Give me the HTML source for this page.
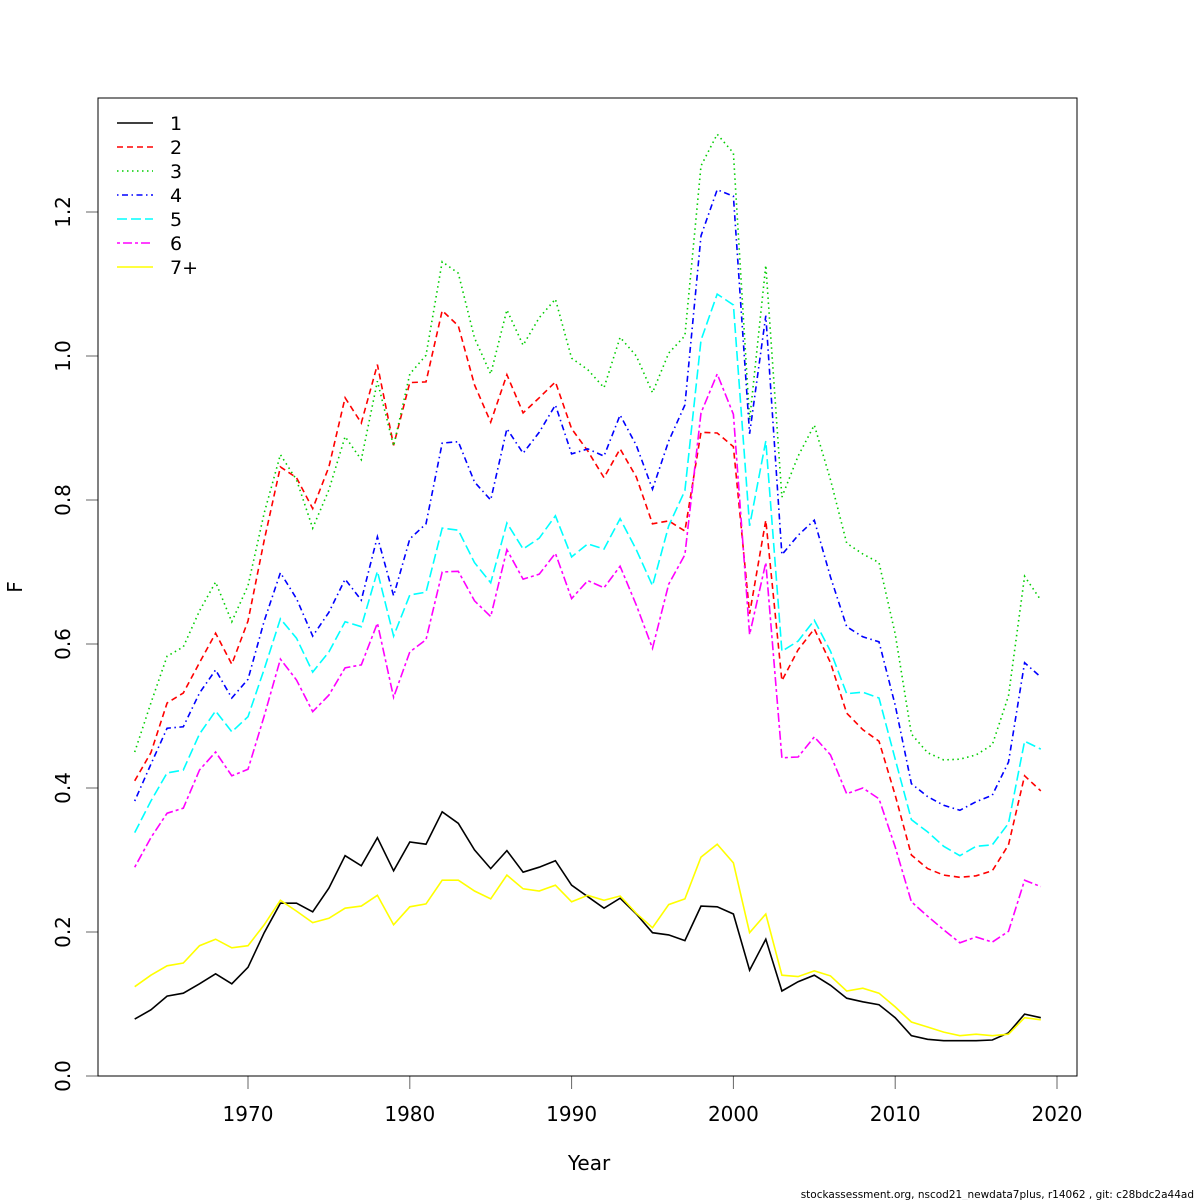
<!DOCTYPE html>
<html><head><meta charset="utf-8"><style>
body{margin:0;background:#fff;font-family:"DejaVu Sans","Liberation Sans",sans-serif}
</style></head><body>
<svg id="chart" width="1200" height="1200" xmlns="http://www.w3.org/2000/svg" font-family="DejaVu Sans, Liberation Sans, sans-serif">
<rect width="1200" height="1200" fill="#fff"/>
<g id="series"></g>
<g id="axes"></g>
<rect x="98" y="98" width="979" height="978" fill="none" stroke="#000" stroke-width="1"/>
<text x="589" y="1170" font-size="20" text-anchor="middle">Year</text>
<text x="22" y="587" font-size="20" text-anchor="middle" transform="rotate(-90 22 587)">F</text>
<text x="1194" y="1198" font-size="10.5" text-anchor="end">stockassessment.org, nscod21_newdata7plus, r14062 , git: c28bdc2a44ad</text>
<g id="legend"></g>
</svg>
<script>
const years = [];
for (let y = 1963; y <= 2019; y++) years.push(y);
const seriesNames = ["1","2","3","4","5","6","7+"];
const age1 = [0.079,0.092,0.111,0.115,0.128,0.142,0.128,0.151,0.199,0.240,0.240,0.228,0.261,0.306,0.292,0.331,0.285,0.325,0.322,0.367,0.351,0.314,0.288,0.313,0.283,0.290,0.299,0.265,0.249,0.233,0.247,0.225,0.199,0.196,0.188,0.236,0.235,0.225,0.147,0.190,0.118,0.131,0.140,0.126,0.108,0.103,0.099,0.081,0.056,0.051,0.049,0.049,0.049,0.050,0.060,0.086,0.081];
const age2 = [0.410,0.449,0.518,0.532,0.574,0.615,0.572,0.632,0.744,0.846,0.831,0.788,0.846,0.942,0.907,0.988,0.876,0.963,0.964,1.063,1.042,0.960,0.908,0.974,0.921,0.942,0.964,0.899,0.868,0.831,0.871,0.832,0.767,0.771,0.757,0.894,0.893,0.874,0.642,0.772,0.549,0.592,0.621,0.574,0.504,0.481,0.465,0.390,0.307,0.288,0.279,0.276,0.278,0.285,0.321,0.417,0.396];
const age3 = [0.450,0.518,0.583,0.596,0.646,0.686,0.631,0.681,0.782,0.863,0.828,0.761,0.814,0.888,0.856,0.965,0.875,0.975,1.001,1.131,1.115,1.025,0.975,1.064,1.015,1.053,1.079,0.997,0.981,0.956,1.026,1.000,0.949,1.004,1.028,1.264,1.308,1.282,0.911,1.126,0.804,0.861,0.904,0.828,0.740,0.725,0.713,0.614,0.475,0.449,0.439,0.440,0.446,0.460,0.528,0.694,0.661];
const age4 = [0.382,0.433,0.483,0.485,0.532,0.564,0.525,0.551,0.632,0.699,0.663,0.611,0.644,0.690,0.661,0.749,0.667,0.746,0.767,0.879,0.881,0.825,0.800,0.899,0.865,0.894,0.932,0.864,0.871,0.861,0.918,0.876,0.815,0.882,0.932,1.167,1.231,1.222,0.892,1.056,0.724,0.751,0.772,0.693,0.624,0.610,0.603,0.515,0.406,0.388,0.376,0.369,0.381,0.390,0.436,0.574,0.554];
const age5 = [0.338,0.382,0.421,0.425,0.475,0.507,0.478,0.499,0.565,0.635,0.608,0.561,0.589,0.631,0.624,0.701,0.611,0.668,0.672,0.761,0.758,0.713,0.685,0.768,0.732,0.747,0.778,0.721,0.739,0.732,0.774,0.731,0.681,0.764,0.813,1.022,1.086,1.071,0.764,0.882,0.590,0.604,0.633,0.590,0.531,0.533,0.525,0.440,0.356,0.339,0.319,0.306,0.319,0.321,0.351,0.465,0.454];
const age6 = [0.290,0.331,0.365,0.372,0.425,0.450,0.417,0.426,0.500,0.579,0.550,0.506,0.529,0.567,0.571,0.629,0.526,0.589,0.606,0.700,0.701,0.660,0.638,0.731,0.690,0.697,0.726,0.663,0.688,0.678,0.708,0.654,0.594,0.683,0.724,0.921,0.975,0.919,0.613,0.713,0.442,0.443,0.471,0.446,0.392,0.400,0.385,0.318,0.242,0.222,0.203,0.185,0.193,0.186,0.201,0.272,0.263];
const age7 = [0.124,0.140,0.153,0.157,0.181,0.190,0.178,0.181,0.210,0.244,0.229,0.213,0.219,0.233,0.236,0.251,0.210,0.235,0.239,0.272,0.272,0.257,0.246,0.279,0.260,0.257,0.265,0.242,0.251,0.244,0.250,0.226,0.206,0.238,0.246,0.304,0.322,0.296,0.199,0.225,0.140,0.138,0.146,0.139,0.118,0.122,0.115,0.096,0.075,0.068,0.061,0.056,0.058,0.056,0.058,0.081,0.078];
const xTicks = [1970,1980,1990,2000,2010,2020];
const yTicks = ["0.0","0.2","0.4","0.6","0.8","1.0","1.2"];

const NS = "http://www.w3.org/2000/svg";
const xScale = v => 248 + (v - 1970) * 16.18;
const yScale = v => 1076 - v * 720;
const colors = ["#000000","#ff0000","#00cd00","#0000ff","#00ffff","#ff00ff","#ffff00"];
const dashes = ["", "6,4", "1.5,3.5", "1.5,3.5,6,3.5", "10,4", "3,3,9,3", ""];
const allSeries = [age1, age2, age3, age4, age5, age6, age7];

const sg = document.getElementById("series");
allSeries.forEach((vals, i) => {
  const p = document.createElementNS(NS, "polyline");
  p.setAttribute("points", vals.map((v, j) => xScale(years[j]).toFixed(1) + "," + yScale(v).toFixed(1)).join(" "));
  p.setAttribute("fill", "none");
  p.setAttribute("stroke", colors[i]);
  p.setAttribute("stroke-width", "1.6");
  if (dashes[i]) p.setAttribute("stroke-dasharray", dashes[i]);
  
  
  sg.appendChild(p);
});

const ag = document.getElementById("axes");
xTicks.forEach(t => {
  const x = xScale(t);
  const l = document.createElementNS(NS, "line");
  l.setAttribute("x1", x); l.setAttribute("x2", x);
  l.setAttribute("y1", 1076); l.setAttribute("y2", 1089);
  l.setAttribute("stroke", "#666");
  
  
  ag.appendChild(l);
  const tx = document.createElementNS(NS, "text");
  tx.setAttribute("x", x); tx.setAttribute("y", 1121);
  tx.setAttribute("font-size", "20"); tx.setAttribute("text-anchor", "middle");
  tx.textContent = t;
  
  
  ag.appendChild(tx);
});
yTicks.forEach(t => {
  const y = yScale(parseFloat(t));
  const l = document.createElementNS(NS, "line");
  l.setAttribute("x1", 86); l.setAttribute("x2", 98);
  l.setAttribute("y1", y); l.setAttribute("y2", y);
  l.setAttribute("stroke", "#666");
  
  
  ag.appendChild(l);
  const tx = document.createElementNS(NS, "text");
  tx.setAttribute("x", 70); tx.setAttribute("y", y);
  tx.setAttribute("font-size", "20"); tx.setAttribute("text-anchor", "middle");
  tx.setAttribute("transform", "rotate(-90 70 " + y + ")");
  tx.textContent = t;
  
  
  ag.appendChild(tx);
});

const lg = document.getElementById("legend");
seriesNames.forEach((n, i) => {
  const y = 123 + i * 24;
  const l = document.createElementNS(NS, "line");
  l.setAttribute("x1", 117); l.setAttribute("x2", 153);
  l.setAttribute("y1", y); l.setAttribute("y2", y);
  l.setAttribute("stroke", colors[i]); l.setAttribute("stroke-width", "1.6");
  if (dashes[i]) l.setAttribute("stroke-dasharray", dashes[i]);
  
  
  lg.appendChild(l);
  const tx = document.createElementNS(NS, "text");
  tx.setAttribute("x", 170); tx.setAttribute("y", y + 7);
  tx.setAttribute("font-size", "19");
  tx.textContent = n;
  
  
  lg.appendChild(tx);
});
</script>
</body></html>
